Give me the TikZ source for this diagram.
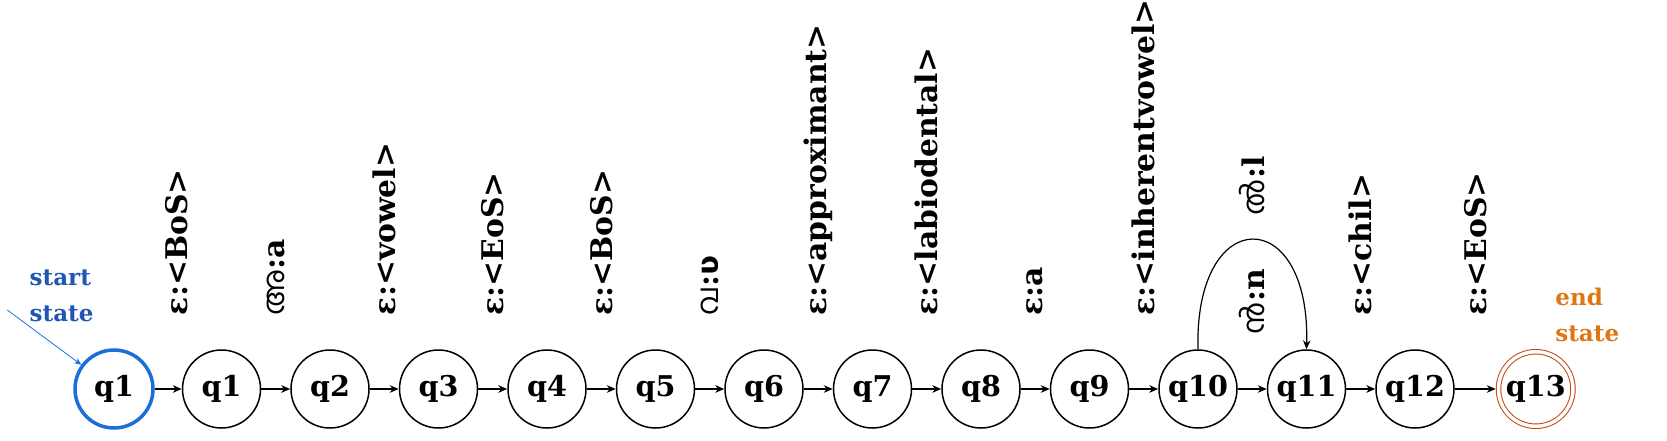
\documentclass[tikz,border=0pt]{standalone}
\usepackage{fontspec}
\setmainfont{DejaVu Serif}
\newfontfamily\mlfont[Script=Malayalam]{Hind Kochi}
\newfontfamily\ipafont{DejaVu Sans}
\usetikzlibrary{positioning,arrows.meta}
\definecolor{startblue}{HTML}{1C6FDB}
\definecolor{starttext}{HTML}{1F55B5}
\definecolor{endring}{HTML}{C2470E}
\definecolor{endtext}{HTML}{E07612}
\newcommand{\ml}[1]{{\mlfont\mdseries #1}}

\begin{document}
\begin{tikzpicture}[
  state/.style={draw, circle, line width=0.75pt, minimum size=39pt,
    inner sep=0pt, font=\fontsize{14.3}{16}\selectfont\bfseries},
  initial state/.style={state, draw=startblue, line width=1.75pt},
  final state/.style={state, draw=endring, line width=0.5pt, double,
    double distance=1.75pt, minimum size=37.25pt, outer sep=1.375pt},
  arr/.style={-{Stealth[length=4.5pt, width=3.8pt]}, line width=0.6pt},
  thickarr/.style={arr, line width=1pt},
  lbl/.style={yshift=#1, rotate=90, anchor=west, inner sep=0pt,
    font=\fontsize{14.9}{16}\selectfont\bfseries},
  lbl/.default=36.5pt,
  note/.style={align=left, anchor=west, inner sep=0pt,
    font=\fontsize{11.5}{18}\selectfont\bfseries},
  node distance=14.5pt]
  \useasboundingbox (-57pt,-25.5pt) rectangle (776.5pt,194.5pt);
  \node[initial state] (start) at (0,0) {q1};
  \node[state, right=13.5pt of start] (q1) {q1};
  \node[state, right=of q1] (q2) {q2};
  \node[state, right=of q2] (q3) {q3};
  \node[state, right=of q3] (q4) {q4};
  \node[state, right=of q4] (q5) {q5};
  \node[state, right=of q5] (q6) {q6};
  \node[state, right=of q6] (q7) {q7};
  \node[state, right=of q7] (q8) {q8};
  \node[state, right=of q8] (q9) {q9};
  \node[state, right=of q9] (q10) {q10};
  \node[state, right=of q10] (q11) {q11};
  \node[state, right=of q11] (q12) {q12};
  \node[final state, right=20.5pt of q12] (q13) {q13};
  % start and end marks
  \node[note, text=starttext] (startnote) at ([shift={(-42.35pt,46.5pt)}]start.center) {start\\state};
  \node[note, text=endtext] (endnote) at ([shift={(720.5pt,37pt)}]start.center) {end\\state};
  \coordinate (entry) at ([shift={(-53.35pt,39.5pt)}]start.center);
  \draw[-{Stealth[length=3.5pt, width=3pt]}, startblue, line width=0.4pt] (entry) -- (start);
  % transitions
  \draw[thickarr] (start) -- node[xshift=4pt, lbl] {ε:<BoS>} (q1);
  \draw[thickarr] (q1) -- node[lbl] {\ml{അ}:a} (q2);
  \draw[thickarr] (q2) -- node[lbl] {ε:<vowel>} (q3);
  \draw[arr] (q3) -- node[lbl] {ε:<EoS>} (q4);
  \draw[arr] (q4) -- node[lbl] {ε:<BoS>} (q5);
  \draw[arr] (q5) -- node[lbl] {\ml{വ}:{\ipafont ʋ}} (q6);
  \draw[arr] (q6) -- node[lbl] {ε:<approximant>} (q7);
  \draw[arr] (q7) -- node[lbl] {ε:<labiodental>} (q8);
  \draw[arr] (q8) -- node[lbl] {ε:a} (q9);
  \draw[arr] (q9) -- node[lbl] {ε:<inherentvowel>} (q10);
  \draw[arr] (q10) -- node[lbl=27pt] {\ml{ൻ}:n} (q11);
  \draw[arr] (q10.north) .. controls +(-2pt,73pt) and +(2pt,73pt) .. (q11.north)
    node[pos=0.5, lbl=12pt] {\ml{ൽ}:l};
  \draw[arr] (q11) -- node[lbl] {ε:<chil>} (q12);
  \draw[arr] (q12) -- node[lbl] {ε:<EoS>} (q13);
\end{tikzpicture}
\end{document}
